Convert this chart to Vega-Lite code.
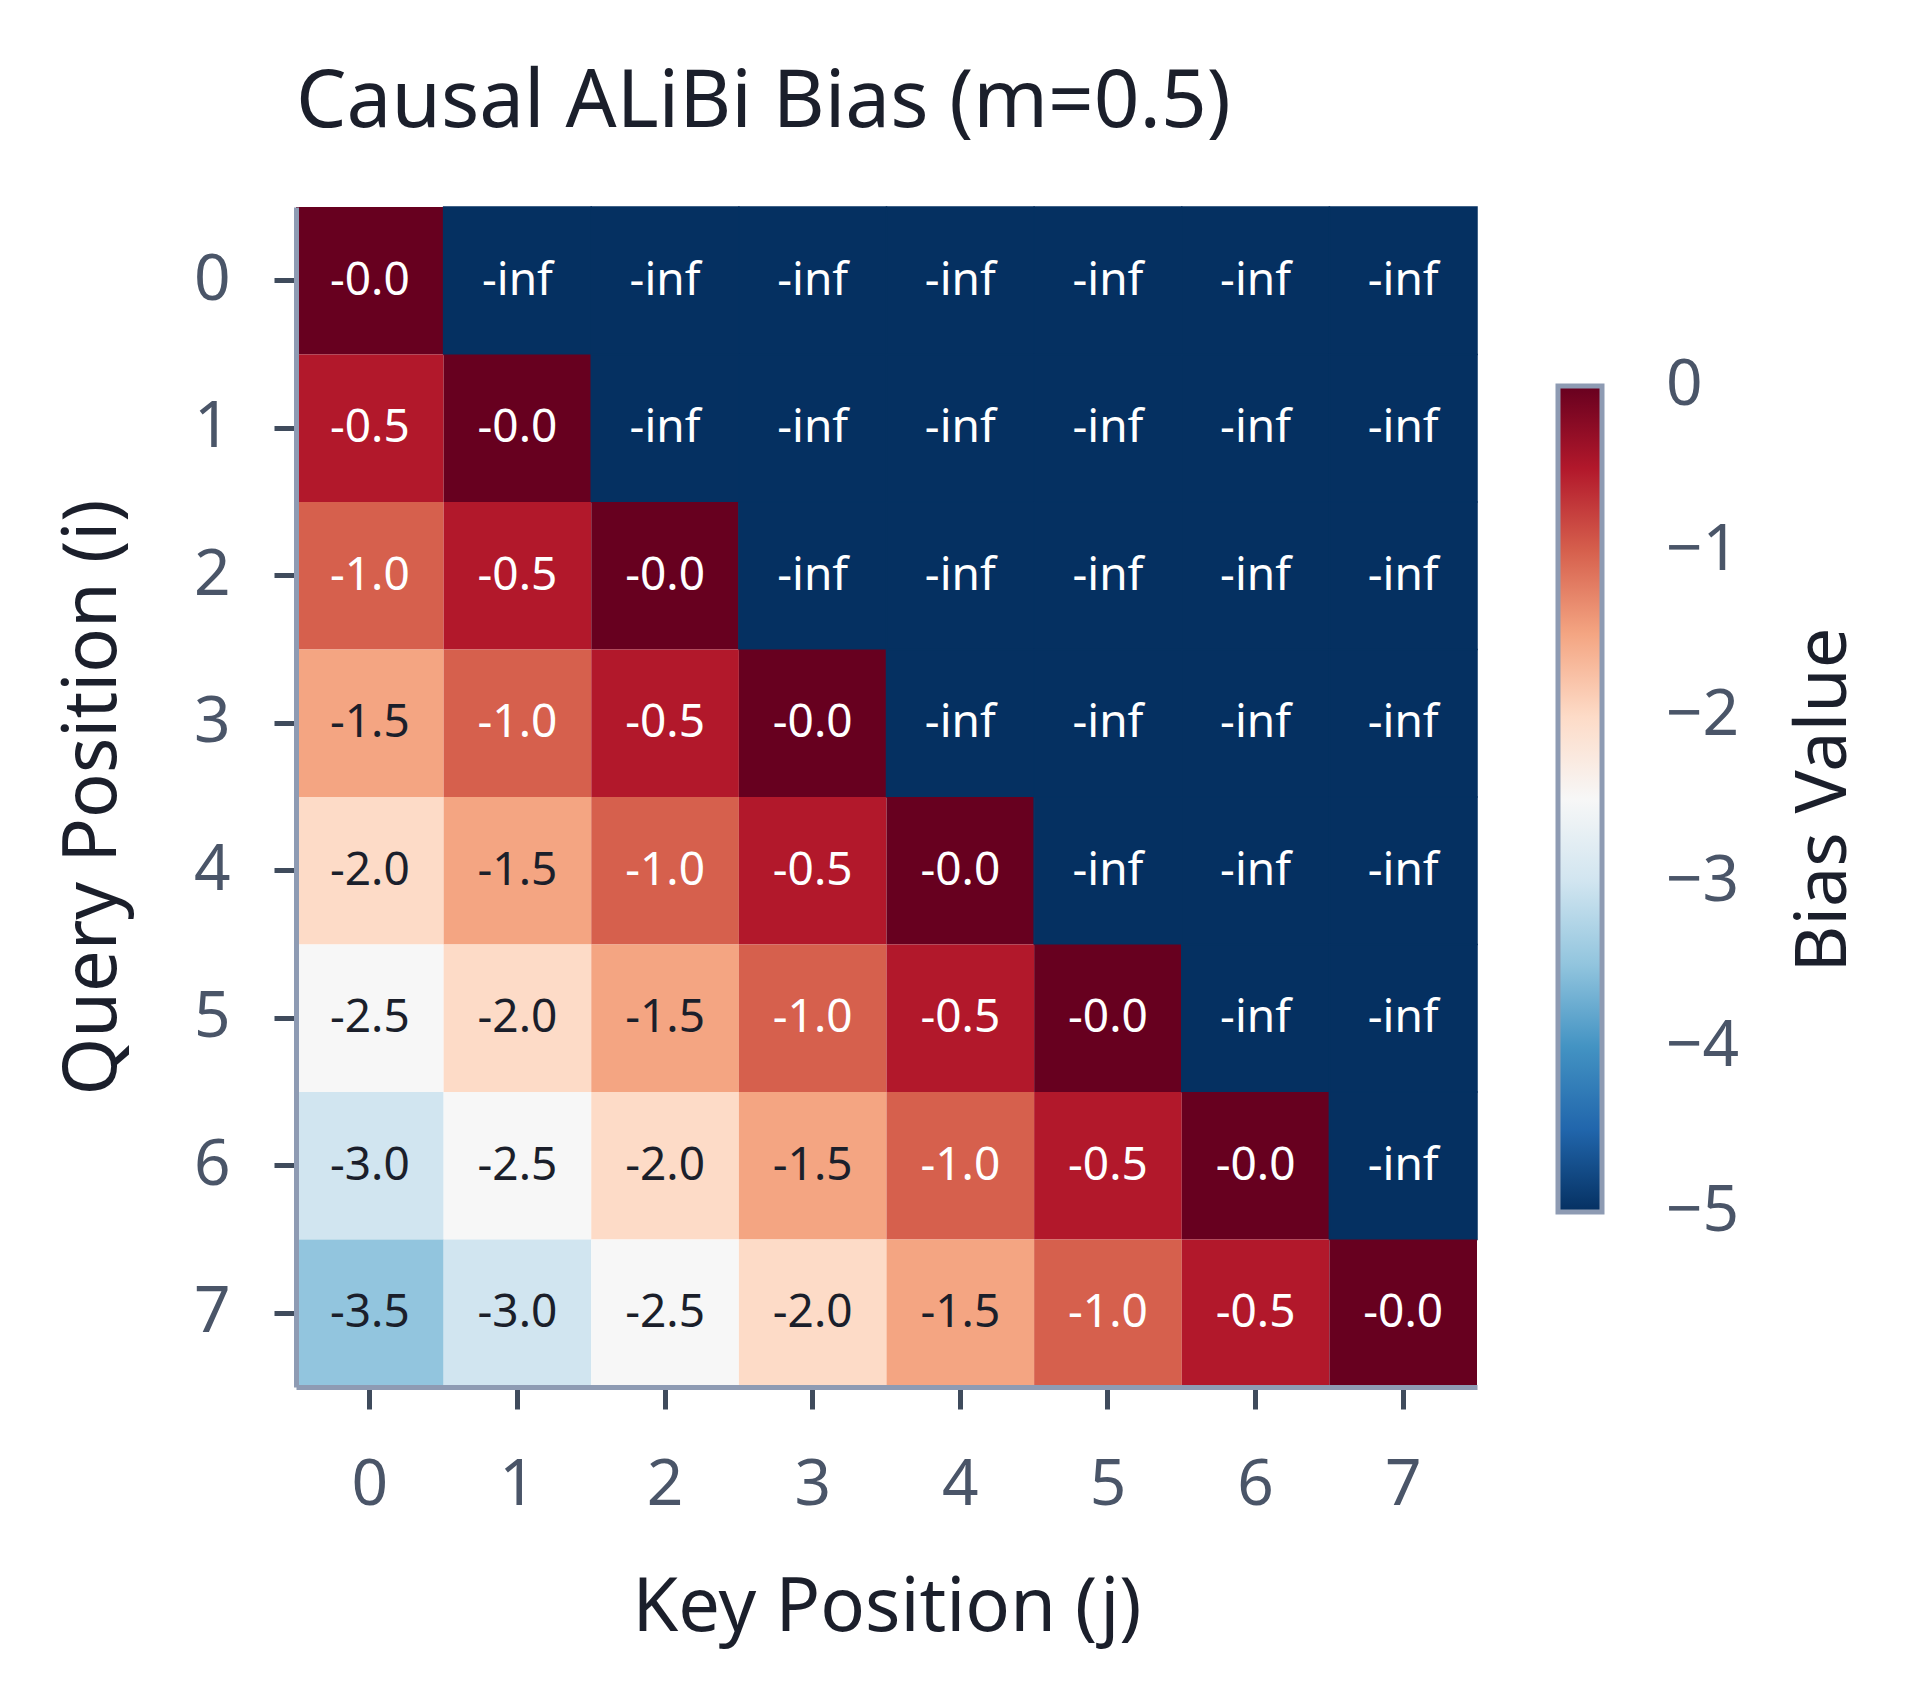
{
  "$schema": "https://vega.github.io/schema/vega-lite/v6.json",
  "autosize": "none",
  "padding": {"left": 296, "top": 207, "right": 443, "bottom": 313},
  "width": 1181,
  "height": 1180,
  "background": "white",
  "title": {
    "text": "Causal ALiBi Bias (m=0.5)",
    "anchor": "start",
    "frame": "group",
    "fontSize": 80,
    "font": "Noto Sans",
    "fontWeight": "normal",
    "color": "#1b1f2b",
    "offset": 62
  },
  "data": {
    "values": [
      {"q": 0, "k": 0, "bias": 0, "label": "-0.0"},
      {"q": 0, "k": 1, "bias": null, "label": "-inf"},
      {"q": 0, "k": 2, "bias": null, "label": "-inf"},
      {"q": 0, "k": 3, "bias": null, "label": "-inf"},
      {"q": 0, "k": 4, "bias": null, "label": "-inf"},
      {"q": 0, "k": 5, "bias": null, "label": "-inf"},
      {"q": 0, "k": 6, "bias": null, "label": "-inf"},
      {"q": 0, "k": 7, "bias": null, "label": "-inf"},
      {"q": 1, "k": 0, "bias": -0.5, "label": "-0.5"},
      {"q": 1, "k": 1, "bias": 0, "label": "-0.0"},
      {"q": 1, "k": 2, "bias": null, "label": "-inf"},
      {"q": 1, "k": 3, "bias": null, "label": "-inf"},
      {"q": 1, "k": 4, "bias": null, "label": "-inf"},
      {"q": 1, "k": 5, "bias": null, "label": "-inf"},
      {"q": 1, "k": 6, "bias": null, "label": "-inf"},
      {"q": 1, "k": 7, "bias": null, "label": "-inf"},
      {"q": 2, "k": 0, "bias": -1.0, "label": "-1.0"},
      {"q": 2, "k": 1, "bias": -0.5, "label": "-0.5"},
      {"q": 2, "k": 2, "bias": 0, "label": "-0.0"},
      {"q": 2, "k": 3, "bias": null, "label": "-inf"},
      {"q": 2, "k": 4, "bias": null, "label": "-inf"},
      {"q": 2, "k": 5, "bias": null, "label": "-inf"},
      {"q": 2, "k": 6, "bias": null, "label": "-inf"},
      {"q": 2, "k": 7, "bias": null, "label": "-inf"},
      {"q": 3, "k": 0, "bias": -1.5, "label": "-1.5"},
      {"q": 3, "k": 1, "bias": -1.0, "label": "-1.0"},
      {"q": 3, "k": 2, "bias": -0.5, "label": "-0.5"},
      {"q": 3, "k": 3, "bias": 0, "label": "-0.0"},
      {"q": 3, "k": 4, "bias": null, "label": "-inf"},
      {"q": 3, "k": 5, "bias": null, "label": "-inf"},
      {"q": 3, "k": 6, "bias": null, "label": "-inf"},
      {"q": 3, "k": 7, "bias": null, "label": "-inf"},
      {"q": 4, "k": 0, "bias": -2.0, "label": "-2.0"},
      {"q": 4, "k": 1, "bias": -1.5, "label": "-1.5"},
      {"q": 4, "k": 2, "bias": -1.0, "label": "-1.0"},
      {"q": 4, "k": 3, "bias": -0.5, "label": "-0.5"},
      {"q": 4, "k": 4, "bias": 0, "label": "-0.0"},
      {"q": 4, "k": 5, "bias": null, "label": "-inf"},
      {"q": 4, "k": 6, "bias": null, "label": "-inf"},
      {"q": 4, "k": 7, "bias": null, "label": "-inf"},
      {"q": 5, "k": 0, "bias": -2.5, "label": "-2.5"},
      {"q": 5, "k": 1, "bias": -2.0, "label": "-2.0"},
      {"q": 5, "k": 2, "bias": -1.5, "label": "-1.5"},
      {"q": 5, "k": 3, "bias": -1.0, "label": "-1.0"},
      {"q": 5, "k": 4, "bias": -0.5, "label": "-0.5"},
      {"q": 5, "k": 5, "bias": 0, "label": "-0.0"},
      {"q": 5, "k": 6, "bias": null, "label": "-inf"},
      {"q": 5, "k": 7, "bias": null, "label": "-inf"},
      {"q": 6, "k": 0, "bias": -3.0, "label": "-3.0"},
      {"q": 6, "k": 1, "bias": -2.5, "label": "-2.5"},
      {"q": 6, "k": 2, "bias": -2.0, "label": "-2.0"},
      {"q": 6, "k": 3, "bias": -1.5, "label": "-1.5"},
      {"q": 6, "k": 4, "bias": -1.0, "label": "-1.0"},
      {"q": 6, "k": 5, "bias": -0.5, "label": "-0.5"},
      {"q": 6, "k": 6, "bias": 0, "label": "-0.0"},
      {"q": 6, "k": 7, "bias": null, "label": "-inf"},
      {"q": 7, "k": 0, "bias": -3.5, "label": "-3.5"},
      {"q": 7, "k": 1, "bias": -3.0, "label": "-3.0"},
      {"q": 7, "k": 2, "bias": -2.5, "label": "-2.5"},
      {"q": 7, "k": 3, "bias": -2.0, "label": "-2.0"},
      {"q": 7, "k": 4, "bias": -1.5, "label": "-1.5"},
      {"q": 7, "k": 5, "bias": -1.0, "label": "-1.0"},
      {"q": 7, "k": 6, "bias": -0.5, "label": "-0.5"},
      {"q": 7, "k": 7, "bias": 0, "label": "-0.0"}
    ]
  },
  "encoding": {
    "x": {
      "field": "k",
      "type": "ordinal",
      "title": "Key Position (j)",
      "scale": {"paddingInner": 0, "paddingOuter": 0},
      "axis": {"labelAngle": 0, "titlePadding": 55}
    },
    "y": {
      "field": "q",
      "type": "ordinal",
      "title": "Query Position (i)",
      "scale": {"paddingInner": 0, "paddingOuter": 0},
      "axis": {"titlePadding": 62}
    }
  },
  "layer": [
    {
      "mark": {"type": "rect", "invalid": "show", "strokeWidth": 1.5},
      "encoding": {
        "color": {
          "condition": {"test": "datum.bias === null", "value": "#053061"},
          "field": "bias",
          "type": "quantitative",
          "title": "Bias Value",
          "scale": {
            "domain": [-5, -4.5, -4, -3.5, -3, -2.5, -2, -1.5, -1, -0.5, 0],
            "range": ["#053061", "#2166ac", "#4393c3", "#92c5de", "#d1e5f0", "#f7f7f7", "#fddbc7", "#f4a582", "#d6604d", "#b2182b", "#67001f"],
            "interpolate": "rgb"
          },
          "legend": {
            "type": "gradient",
            "orient": "none",
            "legendX": 1262,
            "legendY": 179,
            "direction": "vertical",
            "gradientLength": 826,
            "gradientThickness": 44,
            "gradientStrokeColor": "#8e9bb3",
            "gradientStrokeWidth": 5,
            "values": [0, -1, -2, -3, -4, -5],
            "format": "d",
            "labelFontSize": 64,
            "labelFont": "Noto Sans",
            "labelColor": "#4a5568",
            "labelOffset": 64,
            "labelOverlap": false,
            "titleOrient": "right",
            "titleAnchor": "middle",
            "titleLimit": 2000,
            "titleFontSize": 72,
            "titleFont": "Noto Sans",
            "titleFontWeight": "normal",
            "titleColor": "#1b1f2b",
            "titlePadding": 50,
            "padding": 0,
            "encode": {
              "labels": {"update": {"baseline": {"value": "middle"}}},
              "title": {"update": {"angle": {"value": -90}, "baseline": {"value": "top"}, "align": {"value": "center"}}}
            }
          }
        },
        "stroke": {
          "condition": {"test": "datum.bias === null", "value": "#053061"},
          "value": "transparent"
        }
      }
    },
    {
      "mark": {"type": "text", "font": "Noto Sans", "fontSize": 46, "baseline": "middle", "align": "center"},
      "encoding": {
        "text": {"field": "label", "type": "nominal"},
        "color": {
          "condition": {"test": "datum.bias === null || datum.bias >= -1", "value": "#ffffff"},
          "value": "#1b1f2b"
        }
      }
    }
  ],
  "config": {
    "view": {"stroke": null},
    "axis": {
      "labelFont": "Noto Sans",
      "labelFontSize": 64,
      "labelColor": "#4a5568",
      "labelPadding": 44,
      "titleFont": "Noto Sans",
      "titleFontSize": 74,
      "titleFontWeight": "normal",
      "titleColor": "#1b1f2b",
      "tickSize": 22,
      "tickWidth": 5,
      "tickColor": "#3f4b5c",
      "domainColor": "#8e9bb3",
      "domainWidth": 5,
      "grid": false
    }
  }
}
